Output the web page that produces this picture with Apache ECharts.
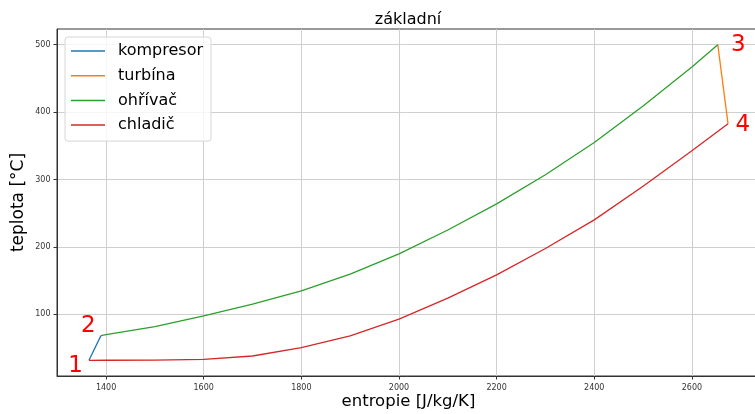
<!DOCTYPE html>
<html>
<head>
<meta charset="utf-8">
<script src="https://cdn.jsdelivr.net/npm/echarts@6/dist/echarts.min.js"></script>
<style>
  html, body { margin: 0; padding: 0; background: #fff; }
  #chart { width: 755px; height: 414px; }
</style>
</head>
<body>
<div id="chart"></div>
<script>
// T-s diagram of the basic cycle: entropy [J/kg/K] vs. temperature [°C]
const entropyTicks = [1400, 1600, 1800, 2000, 2200, 2400, 2600];
const tempTicks = [100, 200, 300, 400, 500];

const kompresorS = [1365, 1389.5];
const kompresorT = [31.6, 68.2];

const turbinaS = [2653, 2674];
const turbinaT = [500, 382.6];

const ohrivacS = [1389.5, 1400, 1500, 1600, 1700, 1800, 1900, 2000, 2100, 2200, 2300, 2400, 2500, 2600, 2653];
const ohrivacT = [68.2, 69.6, 81.6, 97.5, 114.8, 134.6, 159.4, 189.6, 225, 263.7, 307, 354.8, 409, 467, 500];

const chladicS = [2674, 2600, 2500, 2400, 2300, 2200, 2100, 2000, 1900, 1800, 1700, 1600, 1500, 1400, 1365];
const chladicT = [382.6, 342.5, 290, 240, 197.5, 158.4, 124, 92.6, 67.8, 50.4, 38, 33.1, 32.0, 31.7, 31.6];

// cycle states 1-4
const stateNames = ['1', '2', '3', '4'];
const stateS = [1365, 1389.5, 2653, 2674];
const stateT = [31.6, 68.2, 500, 382.6];

const zip = (xs, ys) => xs.map((x, i) => [x, ys[i]]);
const FONT = 'DejaVu Sans';

// label placement around each state point (px)
const stateLabelOffsets = [[-13.4, 6], [-12.7, -10], [20.5, 0.5], [14.7, 1.5]];

function lineSeries(name, xs, ys, color) {
  return {
    name, type: 'line', data: zip(xs, ys), symbol: 'none', smooth: false,
    lineStyle: { color, width: 1.3 }, itemStyle: { color },
    animation: false, silent: true
  };
}

const chart = echarts.init(document.getElementById('chart'), null, { renderer: 'canvas' });
chart.setOption({
  backgroundColor: '#fff',
  animation: false,
  title: {
    text: 'základní', left: 408, top: 12, padding: 0, textAlign: 'center',
    textStyle: { fontFamily: FONT, fontSize: 16, fontWeight: 'normal', color: '#000' }
  },
  grid: {
    left: 57, top: 29, right: -5, bottom: 38, containLabel: false, outerBoundsMode: 'none',
    show: true, borderColor: '#333', borderWidth: 1, backgroundColor: 'transparent'
  },
  legend: {
    orient: 'vertical', left: 65, top: 37,
    padding: [4, 8, 6, 6], itemGap: 4.7, itemWidth: 34, itemHeight: 1.5, icon: 'rect',
    backgroundColor: 'rgba(255,255,255,0.8)', borderColor: '#d6d6d6', borderWidth: 1, borderRadius: 3,
    data: ['kompresor', 'turbína', 'ohřívač', 'chladič'],
    textStyle: { fontFamily: FONT, fontSize: 16, color: '#000', lineHeight: 20, padding: [0, 0, 0, 8] },
    selectedMode: false
  },
  xAxis: {
    type: 'value', min: 1299.5, max: 2739.5,
    name: 'entropie [J/kg/K]', nameLocation: 'middle', nameGap: 17, nameMoveOverlap: false,
    nameTextStyle: { fontFamily: FONT, fontSize: 16.5, color: '#000' },
    axisLine: { show: true, onZero: false, lineStyle: { color: '#333', width: 1 } },
    axisTick: { show: true, inside: false, length: 3.5, customValues: entropyTicks, lineStyle: { color: '#333' } },
    axisLabel: {
      customValues: entropyTicks, formatter: v => String(v),
      fontFamily: FONT, fontSize: 8, color: '#333', margin: 8
    },
    splitLine: { show: true, lineStyle: { color: '#cfcfcf', width: 1 } }
  },
  yAxis: {
    type: 'value', min: 8.3, max: 523.3,
    name: 'teplota [°C]', nameLocation: 'middle', nameGap: 29.5, nameMoveOverlap: false,
    nameTextStyle: { fontFamily: FONT, fontSize: 17, color: '#000' },
    axisLine: { show: true, onZero: false, lineStyle: { color: '#333', width: 1 } },
    axisTick: { show: true, inside: false, length: 3.5, customValues: tempTicks, lineStyle: { color: '#333' } },
    axisLabel: {
      customValues: tempTicks, formatter: v => String(v),
      fontFamily: FONT, fontSize: 8, color: '#333', margin: 6.5
    },
    splitLine: { show: true, lineStyle: { color: '#cfcfcf', width: 1 } }
  },
  series: [
    lineSeries('kompresor', kompresorS, kompresorT, '#1f77b4'),
    lineSeries('turbína', turbinaS, turbinaT, '#ff7f0e'),
    lineSeries('ohřívač', ohrivacS, ohrivacT, '#2ca02c'),
    lineSeries('chladič', chladicS, chladicT, '#d62728'),
    {
      name: 'stavy', type: 'scatter', symbolSize: 0, silent: true, animation: false, z: 5,
      data: stateNames.map((n, i) => ({
        name: n, value: [stateS[i], stateT[i]],
        label: { position: stateLabelOffsets[i] }
      })),
      label: {
        show: true, formatter: p => p.name, align: 'center', verticalAlign: 'middle',
        fontFamily: FONT, fontSize: 23, color: '#ff0000', opacity: 1
      },
      itemStyle: { opacity: 1 },
      labelLayout: { hideOverlap: false }
    }
  ]
});
</script>
</body>
</html>
